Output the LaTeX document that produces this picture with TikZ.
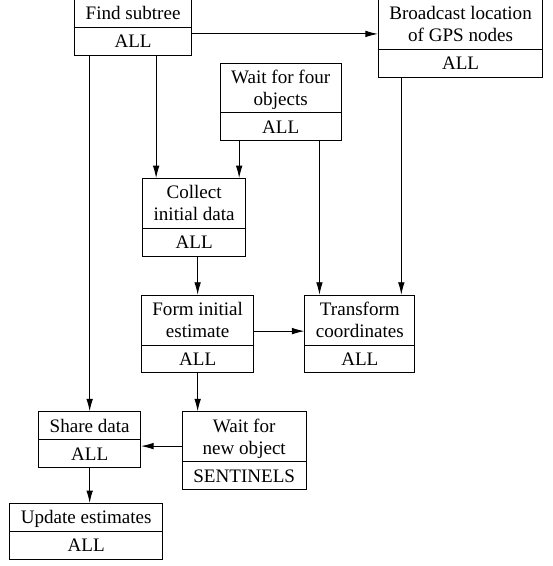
\documentclass[tikz,border=0pt]{standalone}
\usepackage{fontspec}
\setmainfont{Liberation Serif}
\usepackage{tikz}
\usetikzlibrary{positioning,shapes.multipart,arrows.meta}
\newcommand{\tstrut}{\rule[-2.5pt]{0pt}{12pt}}
\tikzset{>={Latex[length=6.8pt,width=3.6pt]}}
\tikzstyle{flow}  = [->,
                     line width=0.5pt]
\tikzstyle{task}  = [draw,
                     line width=0.5pt,
                     rectangle split,
                     rectangle split parts=2,
                     align=center,
                     font=\fontsize{10.4}{12}\selectfont,
                     inner xsep=6pt,
                     inner ysep=1.35pt]

\begin{document}
\begin{tikzpicture}

  \useasboundingbox (0,0) rectangle (301.1pt,-308.7pt);

  % Nodes
  \node[task, anchor=north] at (72.6pt,0.55pt) (find)
    {\tstrut Find subtree \nodepart{two} \tstrut ALL};
  \node[task, right=178.6pt of find.north, anchor=north] (bcast)
    {\tstrut Broadcast location\\\tstrut of GPS nodes \nodepart{two} \tstrut ALL};
  \node[task, below=3.8pt of find.south, xshift=80.5pt] (four)
    {\tstrut Wait for four\\\tstrut objects \nodepart{two} \tstrut ALL};
  \node[task, below=20.1pt of four.south, xshift=-47.2pt] (collect)
    {\tstrut Collect\\\tstrut initial data \nodepart{two} \tstrut ALL};
  \node[task, below=20.7pt of collect.south, xshift=1.9pt] (form)
    {\tstrut Form initial\\\tstrut estimate \nodepart{two} \tstrut ALL};
  \node[task, right=27.3pt of form] (trans)
    {\tstrut Transform\\\tstrut coordinates \nodepart{two} \tstrut ALL};
  \node[task, below=20.7pt of form.south, xshift=-58.9pt] (share)
    {\tstrut Share data \nodepart{two} \tstrut ALL};
  \node[task, below=20.7pt of form.south, xshift=25.4pt] (waitnew)
    {\tstrut Wait for\\\tstrut new object \nodepart{two} \tstrut SENTINELS};
  \node[task, below=19.1pt of share.south, xshift=-1.9pt] (update)
    {\tstrut Update estimates \nodepart{two} \tstrut ALL};

  % Ends of the edges
  \coordinate (fb) at ([yshift=4pt]find.two east);
  \coordinate (c1) at ([xshift=7.6pt]collect.north west);
  \coordinate (c2) at ([xshift=-3.8pt]collect.north east);
  \coordinate (t1) at ([xshift=8.2pt]trans.north west);
  \coordinate (t2) at ([xshift=-7.6pt]trans.north east);
  \coordinate (ws) at ([yshift=2.5pt]waitnew.west);

  % Edges
  \draw[flow] (fb) -- (fb -| bcast.west);
  \draw[flow] (share.north |- find.south) -- (share.north);
  \draw[flow] (c1 |- find.south) -- (c1);
  \draw[flow] (c2 |- four.south) -- (c2);
  \draw[flow] (t1 |- four.south) -- (t1);
  \draw[flow] (t2 |- bcast.south) -- (t2);
  \draw[flow] (form.north |- collect.south) -- (form.north);
  \draw[flow] ([yshift=1.6pt]form.east) -- ([yshift=1.6pt]trans.west);
  \draw[flow] (form.south) -- (form.south |- waitnew.north);
  \draw[flow] (ws) -- (ws -| share.east);
  \draw[flow] (share.south) -- (share.south |- update.north);

\end{tikzpicture}
\end{document}
